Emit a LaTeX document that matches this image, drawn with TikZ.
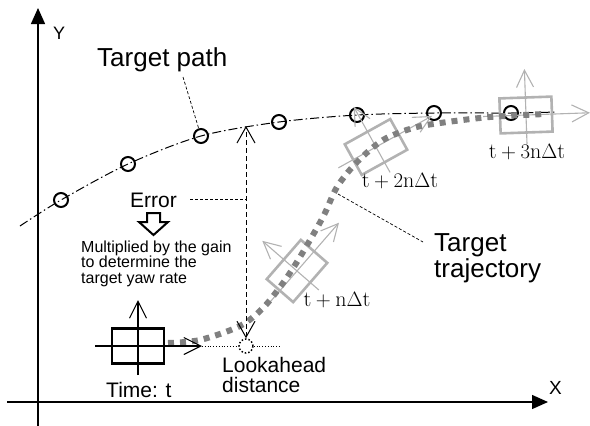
\documentclass[tikz,border=0pt]{standalone}
\usepackage{fontspec}
\newfontfamily\labelsans{Liberation Sans}
\usetikzlibrary{arrows.meta}

\definecolor{trajgray}{RGB}{128,128,128}
\definecolor{cargray}{RGB}{178,178,178}

\tikzset{
  axis/.style={line width=1.4pt, -{Triangle[length=16pt,width=14pt]}},
  barb/.style={-{Straight Barb[length=17pt,width=17pt]}},
  barbs/.style={{Straight Barb[length=16pt,width=18pt]}-{Straight Barb[length=16pt,width=18pt]}},
  leader/.style={line width=0.7pt, dash pattern=on 3pt off 2pt},
  waypoint/.style={circle, draw, line width=2pt, minimum size=14pt, inner sep=0pt},
  vehicle/.pic={
    \draw[line width=2.6pt] (-26,-17.5) rectangle (26,17.5);
    \draw[line width=1.1pt, barb] (-43,0) -- (64,0);
    \draw[line width=1.1pt, barb] (0,29) -- (0,-46);
  }
}

\begin{document}
\begin{tikzpicture}[x=1pt,y=-1pt,font=\labelsans]
  \useasboundingbox (0,0) rectangle (590,426);

  % axes
  \draw[axis] (7,402) -- (548,402);
  \node[anchor=base west, inner sep=0pt, font=\labelsans\fontsize{19}{19}\selectfont] (xlab) at (549,394) {X};
  \draw[axis] (38,426) -- (38,8);
  \node[anchor=base west, inner sep=0pt, font=\labelsans\fontsize{18}{18}\selectfont] (ylab) at (53,39) {Y};

  % target path (dash-dot) and its way points
  \draw[line width=1pt, dash pattern=on 9pt off 3pt on 1.5pt off 3pt]
    plot[smooth] coordinates {(20,226) (61,200) (128,164) (201,136) (279,122) (357,115) (434,113) (511,113) (557,112)};
  \foreach \px/\py [count=\i] in {61/200, 128/164, 201/136, 279/122, 357/115, 434/113, 511/113}
    \node[waypoint] (p\i) at (\px,\py) {};
  \coordinate (errtop) at (246,126);

  % future vehicle positions
  \pic[color=cargray, rotate=49] at (297,271) {vehicle};
  \pic[color=cargray, rotate=29] at (376,147) {vehicle};
  \pic[color=cargray, rotate=2] at (526,115) {vehicle};
  \node[anchor=center, font=\fontsize{22}{22}\selectfont] (tn)  at (337,300) {$\mathrm{t}+\mathrm{n}\Delta\mathrm{t}$};
  \node[anchor=center, font=\fontsize{22}{22}\selectfont] (t2n) at (400,181) {$\mathrm{t}+2\mathrm{n}\Delta\mathrm{t}$};
  \node[anchor=center, font=\fontsize{22}{22}\selectfont] (t3n) at (527,152) {$\mathrm{t}+3\mathrm{n}\Delta\mathrm{t}$};

  % target trajectory
  \draw[trajgray, line width=6pt, dash pattern=on 6pt off 6pt]
    plot[smooth] coordinates {(168,343) (200,340) (240,326) (263,308) (283,283) (300,257) (323,217) (337,187) (357,162) (383,140) (413,128) (440,123) (490,117) (545,114)};
  \coordinate (trajpt) at (338,194);

  % present vehicle
  \pic at (138,346) {vehicle};
  \node[anchor=base west, inner sep=0pt, font=\labelsans\fontsize{21}{21}\selectfont] (time) at (106,397) {Time: t};

  % lookahead point
  \node[circle, draw, dotted, line width=1.5pt, minimum size=14pt, inner sep=0pt] (look) at (246,346) {};
  \draw[line width=0.8pt, dotted] (202,346) -- (look.west) (look.east) -- (281,346);
  \node[anchor=base west, inner sep=0pt, align=left, font=\labelsans\fontsize{21}{20}\selectfont] (lookl) at (222,392) {Lookahead\\distance};

  % error
  \draw[line width=1pt, dash pattern=on 5pt off 3pt, barbs] (look.north) -- (errtop);
  \coordinate (errmid) at (246,199);
  \node[anchor=base west, inner sep=0pt, font=\labelsans\fontsize{21}{21}\selectfont] (error) at (130,207) {Error};
  \draw[leader] (190,199) -- (errmid);
  \draw[line width=2pt, shift={(153.5,213)}]
    (-6.5,0) -- (6.5,0) -- (6.5,9) -- (14.5,9) -- (0,22) -- (-14.5,9) -- (-6.5,9) -- cycle;
  \node[anchor=north west, inner sep=0pt, align=left, font=\labelsans\fontsize{16}{15.7}\selectfont] (gain) at (81,240.5)
    {Multiplied by the gain\\to determine the\\target yaw rate};

  % labels with leaders
  \node[anchor=base west, inner sep=0pt, font=\labelsans\fontsize{26}{26}\selectfont] (pathl) at (97,66) {Target path};
  \draw[leader] (183,77) -- (p3);
  \node[anchor=base west, inner sep=0pt, align=left, font=\labelsans\fontsize{26}{26}\selectfont] (trajl) at (434,277) {Target\\trajectory};
  \draw[leader] (trajpt) -- (423,242);
\end{tikzpicture}
\end{document}
